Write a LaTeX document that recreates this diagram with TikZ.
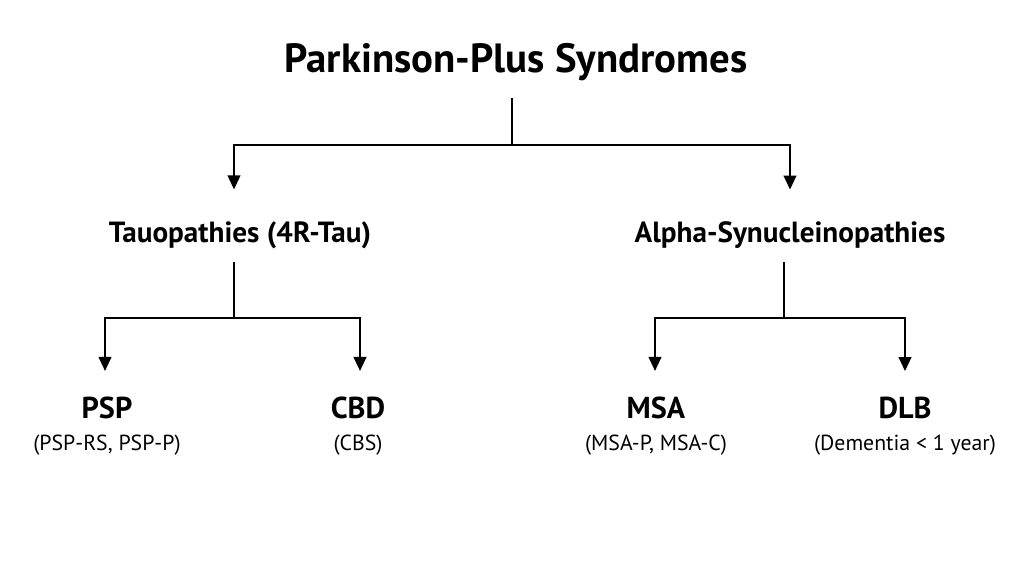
\documentclass[tikz,border=0pt]{standalone}
\usepackage{fontspec}
\setmainfont{PT Sans}
\usetikzlibrary{positioning, calc, arrows.meta}

\begin{document}
\begin{tikzpicture}[x=0.01cm, y=-0.01cm,
        every node/.style={inner sep=0pt, outer sep=0pt},
        titlebox/.style={font=\fontsize{11.6}{13}\selectfont\bfseries},
        groupbox/.style={font=\fontsize{8.3}{10}\selectfont\bfseries},
        leafbox/.style={font=\fontsize{8.6}{11}\selectfont\bfseries},
        notebox/.style={font=\fontsize{6.2}{8}\selectfont},
        link/.style={line width=0.6pt, -{Triangle[width=3.6pt, length=4pt]}},
        stem/.style={line width=0.6pt}]
        \useasboundingbox[fill=white] (0,0) rectangle (1024,576);
        %titolo
            \node[titlebox] (title) at (516,62) {Parkinson-Plus Syndromes};
        %gruppi
            \node[groupbox] (tau) at (240,235) {Tauopathies (4R-Tau)};
            \node[groupbox] (alpha) at (790,235) {Alpha-Synucleinopathies};
        %malattie
            \node[leafbox] (psp) at (107,408) {PSP};
            \node[leafbox] (cbd) at (358,408) {CBD};
            \node[leafbox] (msa) at (656,408) {MSA};
            \node[leafbox] (dlb) at (905,408) {DLB};
        %sottotipi
            \node[notebox, below=9pt of psp.base, anchor=base] (pspsub) {(PSP-RS, PSP-P)};
            \node[notebox, below=9pt of cbd.base, anchor=base] (cbdsub) {(CBS)};
            \node[notebox, below=9pt of msa.base, anchor=base] (msasub) {(MSA-P, MSA-C)};
            \node[notebox, below=9pt of dlb.base, anchor=base] (dlbsub) {(Dementia < 1 year)};
        %punti di snodo
            \coordinate (topstart) at (512,98);
            \coordinate (topjoin) at (512,145);
            \coordinate (taustart) at (234,262);
            \coordinate (taujoin) at (234,318);
            \coordinate (alphastart) at (784,262);
            \coordinate (alphajoin) at (784,318);
        %collegamenti
            \draw[stem] (topstart) -- (topjoin);
            \draw[link] (topjoin) -| ($(tau.north)+(-6,-32)$);
            \draw[link] (topjoin) -| ($(alpha.north)+(0,-32)$);
            \draw[stem] (taustart) -- (taujoin);
            \draw[link] (taujoin) -| ($(psp.north)+(-2,-26)$);
            \draw[link] (taujoin) -| ($(cbd.north)+(2,-26)$);
            \draw[stem] (alphastart) -- (alphajoin);
            \draw[link] (alphajoin) -| ($(msa.north)+(-1,-26)$);
            \draw[link] (alphajoin) -| ($(dlb.north)+(0,-26)$);
    \end{tikzpicture}
\end{document}
